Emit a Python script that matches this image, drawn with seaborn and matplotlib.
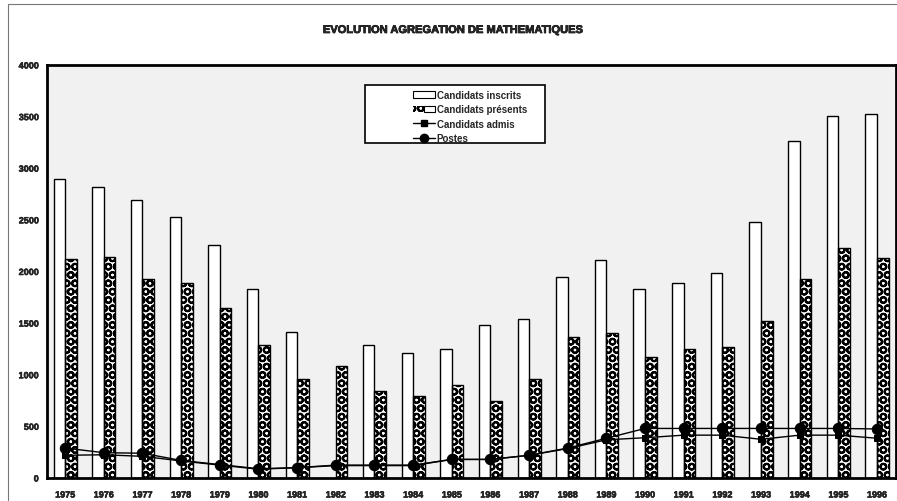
import numpy as np
import pandas as pd
import matplotlib
matplotlib.use("Agg")
import matplotlib.pyplot as plt
import matplotlib.patheffects as pe
from matplotlib.patches import Patch, Rectangle
from matplotlib.lines import Line2D
from matplotlib.legend_handler import HandlerTuple
import seaborn as sns

# ---- data -------------------------------------------------------------
years = [str(y) for y in range(1975, 1997)]
inscrits = [2900, 2820, 2690, 2530, 2260, 1830, 1410, np.nan, 1290, 1210, 1250,
            1480, 1540, 1950, 2110, 1830, 1890, 1990, 2480, 3260, 3510, 3530]
presents = [2120, 2140, 1930, 1890, 1645, 1290, 960, 1080, 840, 790, 900,
            750, 960, 1370, 1400, 1170, 1250, 1270, 1520, 1930, 2230, 2130]
admis = [220, 225, 210, 165, 125, 85, 100, 120, 120, 120, 180,
         180, 220, 285, 370, 390, 415, 415, 375, 415, 415, 385]
postes = [290, 245, 240, 170, 130, 90, 100, 125, 125, 125, 180,
          180, 220, 290, 385, 480, 480, 480, 480, 480, 480, 475]
series_names = ["Candidats inscrits", "Candidats présents", "Candidats admis", "Postes"]
y_ticks = list(range(0, 4001, 500))

# ---- long-form table for the bars -------------------------------------
bars = pd.concat([
    pd.DataFrame({"annee": years, "valeur": inscrits, "serie": series_names[0]}),
    pd.DataFrame({"annee": years, "valeur": presents, "serie": series_names[1]}),
]).dropna()

sns.set_style("white")
plt.rcParams["font.family"] = ["Liberation Sans", "DejaVu Sans"]
plt.rcParams["font.weight"] = "bold"
plt.rcParams["hatch.linewidth"] = 1.5

HATCH = "OO"
heavy = [pe.withStroke(linewidth=0.5, foreground="black")]

fig = plt.figure(figsize=(8.97, 5.02), dpi=100)
ax = fig.add_axes([47 / 897, 1 - 479 / 502, 849 / 897, 413 / 502])
ax.set_facecolor("#f1f1f1")

hue_order = series_names[:2]
sns.barplot(data=bars, x="annee", y="valeur", hue="serie", order=years,
            hue_order=hue_order, width=0.6, palette=["white", "white"],
            errorbar=None, legend=False, ax=ax, zorder=2)

# chain-like pattern for "présents": thick dark rings leaving light ovals
n_years = len(years)
for p in ax.containers[1]:
    p.set_edgecolor("black")
    p.set_hatch(HATCH)
    p.set_linewidth(0)

# crisp black outlines on top of both bar series
sns.barplot(data=bars, x="annee", y="valeur", hue="serie", order=years,
            hue_order=hue_order, width=0.6, palette=["black", "black"],
            fill=False, errorbar=None, legend=False, ax=ax, linewidth=1.0, zorder=3)

# lines: admitted candidates and posts
idx = np.arange(n_years)
sns.lineplot(x=idx, y=admis, color="black", marker="s", markersize=5,
             linewidth=1.0, markeredgecolor="black", ax=ax, zorder=4)
sns.lineplot(x=idx, y=postes, color="black", marker="o", markersize=7.5,
             linewidth=1.0, markeredgecolor="black", ax=ax, zorder=5)

ax.set_xlim(-0.47, n_years - 1 + 0.49)
ax.set_ylim(0, 4000)
ax.set_yticks(y_ticks)
ax.set_yticklabels([str(v) for v in y_ticks], fontsize=6.5, fontweight="bold")
ax.set_xticks(idx)
ax.set_xticklabels(years, fontsize=6.5, fontweight="bold")
for t in ax.get_xticklabels() + ax.get_yticklabels():
    t.set_path_effects([pe.withStroke(linewidth=0.35, foreground="black")])
ax.set_xticks(idx[:-1] + 0.5, minor=True)
ax.tick_params(axis="x", which="major", length=0, pad=9)
ax.tick_params(axis="x", which="minor", direction="in", length=3, width=0.8)
ax.tick_params(axis="y", which="major", direction="out", length=3, width=0.8, pad=3)
ax.set_xlabel("")
ax.set_ylabel("")
for side in ["left", "bottom", "top", "right"]:
    ax.spines[side].set_visible(True)
    ax.spines[side].set_color("black")
    ax.spines[side].set_linewidth(2.0)

fig.text(453 / 897, 1 - 31 / 502, "EVOLUTION AGREGATION DE MATHEMATIQUES",
         ha="center", va="center", fontsize=8, fontweight="bold",
         path_effects=heavy)

# legend: frame drawn as a box, entries placed towards its right side
ax.add_patch(Rectangle((318 / 849, 335 / 413), 180 / 849, 58 / 413,
                       transform=ax.transAxes, facecolor="white",
                       edgecolor="black", linewidth=1.2, zorder=9))
h_insc = Patch(facecolor="white", edgecolor="black", linewidth=0.8)
h_pres = (Patch(facecolor="white", edgecolor="black", hatch=HATCH, linewidth=0),
          Patch(facecolor="none", edgecolor="black", linewidth=0.8))
h_adm = Line2D([], [], color="black", marker="s", markersize=4.5, linewidth=1.0)
h_post = Line2D([], [], color="black", marker="o", markersize=6, linewidth=1.0)
leg = ax.legend([h_insc, h_pres, h_adm, h_post], series_names,
                handler_map={tuple: HandlerTuple(ndivide=None, pad=0)},
                loc="upper left", bbox_to_anchor=(366 / 849, 388 / 413),
                prop={"size": 7, "weight": "bold"}, frameon=False,
                handlelength=2.3, handleheight=0.6, labelspacing=0.45,
                borderpad=0, handletextpad=0.15, borderaxespad=0)
leg.set_zorder(10)

# thin page border around the whole chart
fig.add_artist(Rectangle((8 / 897, -0.02), 1.0, 1 - 5 / 502 + 0.02,
                         transform=fig.transFigure, fill=False,
                         edgecolor="#777777", linewidth=0.8))

fig.savefig("out.png", dpi=100)
